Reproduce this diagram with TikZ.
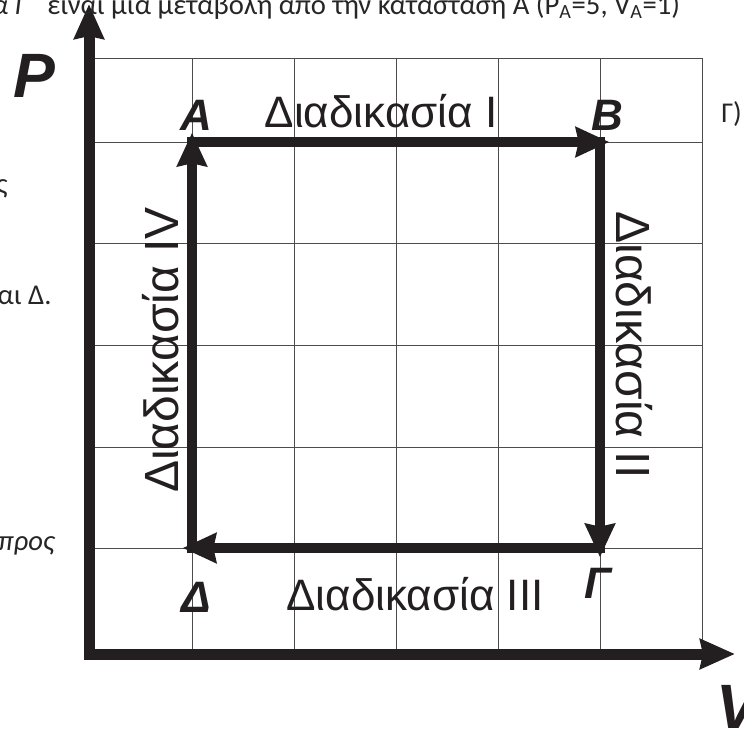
\documentclass[tikz,border=0pt]{standalone}
\usepackage{fontspec}
\setmainfont{Liberation Sans}
\newfontfamily\docfont{Carlito}
\usetikzlibrary{arrows.meta}
\definecolor{ink}{HTML}{231F20}
\tikzset{
  gridline/.style={black!70,line width=0.75pt},
  axisline/.style={ink,line width=8.25pt,line join=miter,{Stealth[length=26pt,width=22pt,inset=2pt]}-{Stealth[length=26pt,width=22pt,inset=2pt]}},
  cycleline/.style={ink,line width=7pt,line cap=rect,-{Stealth[length=25pt,width=22pt,inset=2pt]},shorten >=-7pt},
  statelabel/.style={ink,inner sep=0pt,font=\fontsize{33}{36}\selectfont\bfseries\itshape},
  proclabel/.style={ink,inner sep=0pt,font=\fontsize{33}{36}\selectfont},
  sidelabel/.style={ink,inner sep=0pt,font=\fontsize{36}{40}\selectfont},
  axislabel/.style={ink,inner sep=0pt,font=\fontsize{47}{50}\selectfont\bfseries\itshape},
  doctext/.style={black!85,inner sep=0pt,font=\docfont\fontsize{21.5}{24}\selectfont}
}
\begin{document}
\begin{tikzpicture}[x=0.75pt,y=-0.75pt]
\useasboundingbox (0,0) rectangle (744,729);
\clip (0,0) rectangle (744,729);
\foreach \x in {192,294,396,498,600,702} \draw[gridline] (\x,58)--(\x,654);
\foreach \y in {58,142,243,345,447,548} \draw[gridline] (89,\y)--(702,\y);
\coordinate (O) at (89,654); \coordinate (Ptip) at (89,4); \coordinate (Vtip) at (735,654);
\draw[axisline] (Ptip)--(O)--(Vtip);
\coordinate (A) at (192,142); \coordinate (B) at (600,142);
\coordinate (G) at (600,548); \coordinate (D) at (192,548);
\draw[cycleline] (A)--(B);
\draw[cycleline] (B)--(G);
\draw[cycleline] (G)--(D);
\draw[cycleline] (D)--(A);
\node[statelabel,anchor=base] (lA) at (196,130) {A};
\node[statelabel,anchor=base] (lB) at (607,130) {B};
\node[statelabel,anchor=base] (lG) at (598,598) {Γ};
\node[statelabel,anchor=base] (lD) at (196,612) {Δ};
\node[proclabel,anchor=base] (p1) at (381,127) {Διαδικασία I};
\node[sidelabel,anchor=base,rotate=-90] (p2) at (616,345) {Διαδικασία II};
\node[proclabel,anchor=base] (p3) at (415,610) {Διαδικασία III};
\node[sidelabel,anchor=base,rotate=90] (p4) at (178,350) {Διαδικασία IV};
\node[axislabel,anchor=base] (lP) at (34,97) {P};
\node[axislabel,anchor=base west] (lV) at (716,728) {V};
\node[doctext,anchor=base east] (t0) at (27,14) {\itshape α Γ};
\node[doctext,anchor=base west] (t1) at (47,14) {είναι μια μεταβολή από την κατάσταση Α (P\textsubscript{A}=5, V\textsubscript{A}=1)};
\node[doctext,anchor=base west] (t2) at (721,122) {Γ)};
\node[doctext,anchor=base east] (t3) at (8,193) {ς};
\node[doctext,anchor=base east] (t4) at (52,304) {αι Δ.};
\node[doctext,anchor=base east] (t5) at (55,550) {\itshape προς};
\end{tikzpicture}
\end{document}
